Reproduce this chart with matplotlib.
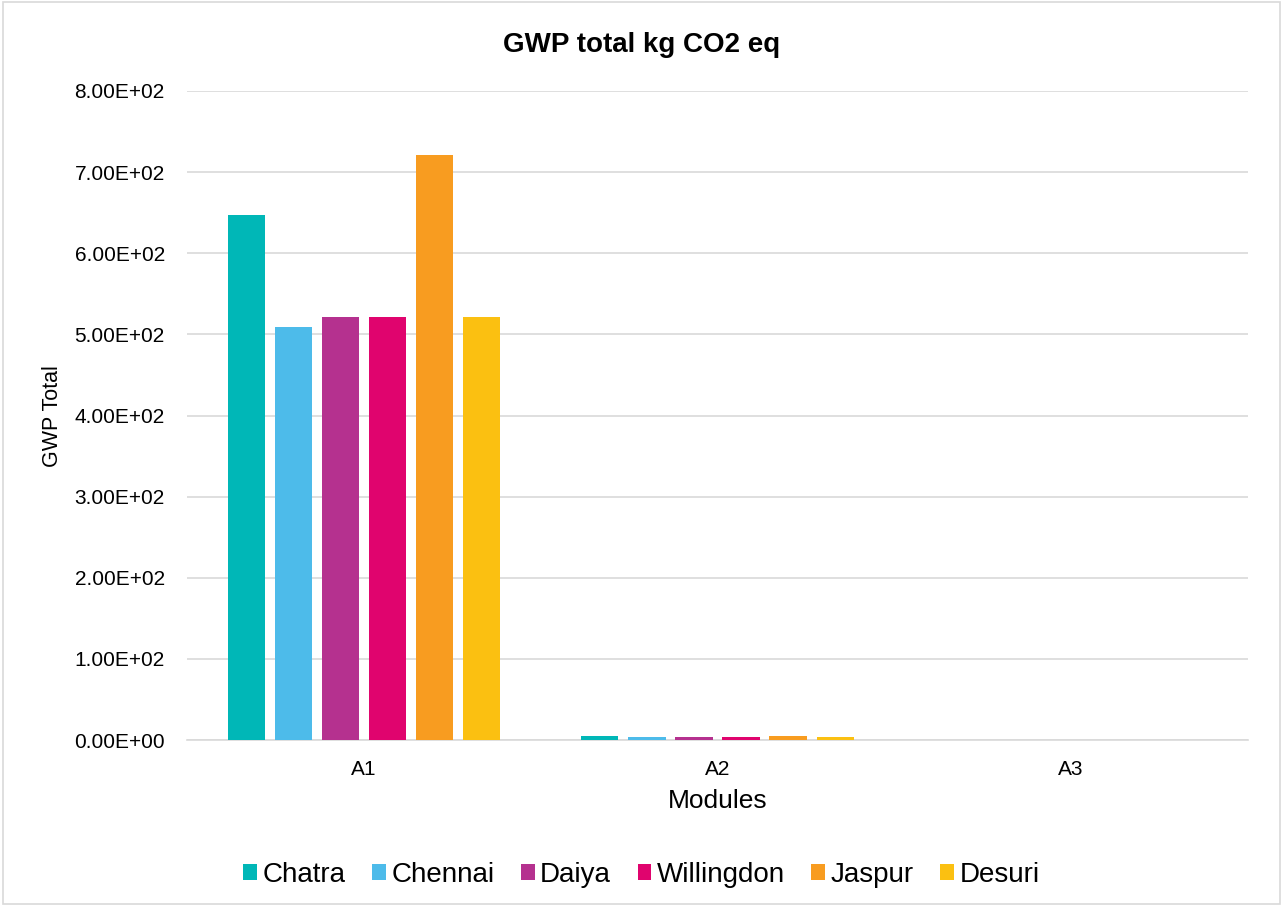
import numpy as np
import matplotlib
matplotlib.use("Agg")
import matplotlib.pyplot as plt
from matplotlib.patches import Rectangle

plt.rcParams['font.family'] = ['Liberation Sans', 'DejaVu Sans']

# Data
modules = ["A1", "A2", "A3"]
sites = ["Chatra", "Chennai", "Daiya", "Willingdon", "Jaspur", "Desuri"]
colors = ["#00B7B7", "#4DBBEA", "#B5318F", "#E0046E", "#F89C20", "#FBC011"]
chatra = [647, 5.2, 0]
chennai = [509, 3.9, 0]
daiya = [521.5, 3.9, 0]
willingdon = [521.5, 3.9, 0]
jaspur = [721, 5.0, 0]
desuri = [521.5, 3.9, 0]
values = [chatra, chennai, daiya, willingdon, jaspur, desuri]

fig = plt.figure(figsize=(12.83, 9.06), dpi=100)
ax = fig.add_axes([187 / 1283, 1 - 740 / 906, (1248 - 187) / 1283, (740 - 91) / 906])

# figure border
fig.patches.append(Rectangle((0.002, 0.002), 0.996, 0.996, transform=fig.transFigure,
                             fill=False, edgecolor="#D9D9D9", linewidth=1.2))

x = np.arange(len(modules))
width = 0.105
pitch = 0.133
for i, (name, vals) in enumerate(zip(sites, values)):
    offset = (i - 2.5) * pitch
    ax.bar(x + offset, vals, width, color=colors[i], label=name, zorder=3)

ax.set_xlim(-0.5, 2.5)
ax.set_ylim(0, 800)
ax.set_yticks(np.arange(0, 801, 100))
ax.set_yticklabels([f"{v:.2E}" for v in np.arange(0, 801, 100)])
ax.set_xticks(x)
ax.set_xticklabels(modules)
ax.tick_params(axis="y", length=0, labelsize=15, pad=16)
ax.tick_params(axis="x", length=0, labelsize=15, pad=14.5)
ax.grid(axis="y", color="#D9D9D9", linewidth=1.2, zorder=0)
for s in ["top", "right", "left"]:
    ax.spines[s].set_visible(False)
ax.spines["bottom"].set_color("#D9D9D9")
ax.spines["bottom"].set_linewidth(1.2)

fig.text(0.5, 1 - 45 / 906, "GWP total kg CO2 eq", fontsize=20, fontweight="bold",
         ha="center", va="center")
fig.text(53 / 1283, 1 - 416 / 906, "GWP Total", fontsize=15.5, rotation=90,
         ha="center", va="center")
fig.text((187 + 1248) / 2 / 1283, 1 - 801 / 906, "Modules", fontsize=19,
         ha="center", va="center")

ax.legend(loc="center", bbox_to_anchor=(0.5, 1 - 875 / 906), bbox_transform=fig.transFigure,
          ncol=6, frameon=False, fontsize=20, handlelength=0.5, handleheight=0.5,
          handletextpad=0.2, columnspacing=0.95, borderpad=0)

fig.savefig("out.png", dpi=100)
